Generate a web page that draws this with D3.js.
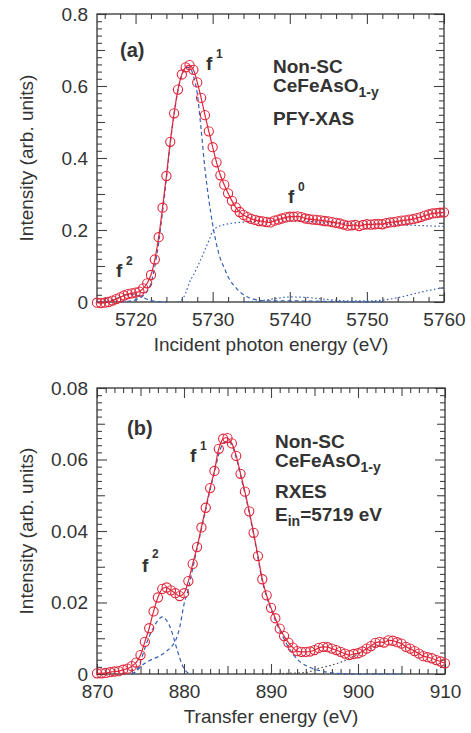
<!DOCTYPE html>
<html>
<head>
<meta charset="utf-8">
<script src="https://cdn.jsdelivr.net/npm/d3@7"></script>
<style>
  body { margin: 0; background: #fff; }
  svg text { font-family: "Liberation Sans", Arial, Helvetica, sans-serif; fill: #333; }
</style>
</head>
<body>
<div id="chart"></div>
<script>
// ---- panel (a): PFY-XAS, [energy eV, intensity]
var xasData = [
  [5715.0,-0.002],[5715.5,-0.003],[5716.0,-0.002],[5716.5,0.000],[5717.0,0.004],[5717.5,0.008],
  [5718.0,0.013],[5718.5,0.018],[5719.0,0.022],[5719.5,0.024],[5720.0,0.026],[5720.5,0.029],
  [5721.0,0.038],[5721.5,0.052],[5722.0,0.075],[5722.5,0.118],[5723.0,0.180],[5723.5,0.262],
  [5724.0,0.350],[5724.5,0.445],[5725.0,0.524],[5725.5,0.590],[5726.0,0.632],[5726.5,0.652],
  [5727.0,0.658],[5727.5,0.645],[5728.0,0.610],[5728.5,0.567],[5729.0,0.519],[5729.5,0.474],
  [5730.0,0.430],[5730.5,0.388],[5731.0,0.352],[5731.5,0.326],[5732.0,0.302],[5732.5,0.281],
  [5733.0,0.263],[5733.5,0.250],[5734.0,0.242],[5734.5,0.236],[5735.0,0.231],[5735.5,0.228],
  [5736.0,0.225],[5736.5,0.224],[5737.0,0.222],[5737.5,0.221],[5738.0,0.226],[5738.5,0.229],
  [5739.0,0.232],[5739.5,0.235],[5740.0,0.237],[5740.5,0.237],[5741.0,0.238],[5741.5,0.236],
  [5742.0,0.232],[5742.5,0.230],[5743.0,0.229],[5743.5,0.228],[5744.0,0.227],[5744.5,0.225],
  [5745.0,0.224],[5745.5,0.222],[5746.0,0.220],[5746.5,0.218],[5747.0,0.215],[5747.5,0.212],
  [5748.0,0.213],[5748.5,0.214],[5749.0,0.211],[5749.5,0.214],[5750.0,0.216],[5750.5,0.215],
  [5751.0,0.216],[5751.5,0.217],[5752.0,0.216],[5752.5,0.219],[5753.0,0.221],[5753.5,0.222],
  [5754.0,0.224],[5754.5,0.226],[5755.0,0.227],[5755.5,0.229],[5756.0,0.230],[5756.5,0.233],
  [5757.0,0.236],[5757.5,0.240],[5758.0,0.243],[5758.5,0.246],[5759.0,0.247],[5759.5,0.248],
  [5760.0,0.249]
];
// fitted components (a)
var xasF1 = [
  [5718,0.000],[5719,0.002],[5720,0.006],[5721,0.018],[5722,0.052],[5722.5,0.100],[5723,0.165],
  [5723.5,0.250],[5724,0.342],[5724.5,0.440],[5725,0.522],[5725.5,0.588],[5726,0.630],
  [5726.5,0.652],[5727,0.652],[5727.5,0.628],[5728,0.580],[5728.5,0.480],[5729,0.370],
  [5729.5,0.285],[5730,0.215],[5730.5,0.160],[5731,0.120],[5731.5,0.095],[5732,0.070],
  [5733,0.040],[5734,0.020],[5735,0.010],[5736,0.005],[5737,0.003],[5740,0.003],[5744,0.002],
  [5748,0.001],[5752,0.000]
];
var xasF2 = [
  [5715,0.000],[5716,0.001],[5717,0.005],[5718,0.014],[5719,0.021],[5720,0.020],[5721,0.012],
  [5722,0.004],[5723,0.001],[5724,0.000]
];
var xasF0 = [
  [5725.5,0.000],[5726,0.006],[5726.5,0.025],[5727,0.055],[5727.5,0.075],[5728,0.097],
  [5728.5,0.120],[5729,0.145],[5729.5,0.170],[5730,0.197],[5730.5,0.207],[5731,0.212],
  [5732,0.217],[5733,0.220],[5735,0.223],[5738,0.225],[5740,0.225],[5744,0.222],[5748,0.218],
  [5752,0.216],[5756,0.213],[5760,0.210]
];
var xasEdge = [
  [5734,0.000],[5736,0.003],[5738,0.009],[5740,0.014],[5742,0.013],[5744,0.009],[5746,0.005],
  [5748,0.003],[5750,0.003],[5752,0.005],[5754,0.012],[5756,0.022],[5758,0.032],[5760,0.040]
];
var xasTickLabels = [0, 0.2, 0.4, 0.6, 0.8];
var xasEnergyLabels = [5720, 5730, 5740, 5750, 5760];

// ---- panel (b): RXES, [transfer energy eV, intensity]
var rxesData = [
  [870.0,0.0002],[870.5,0.0002],[871.0,0.0003],[871.5,0.0005],[872.0,0.0007],[872.5,0.0008],
  [873.0,0.0012],[873.5,0.0015],[874.0,0.0022],[874.5,0.0032],[875.0,0.0053],[875.5,0.0090],
  [876.0,0.0128],[876.5,0.0175],[877.0,0.0214],[877.5,0.0238],[878.0,0.0242],[878.5,0.0234],
  [879.0,0.0226],[879.5,0.0218],[880.0,0.0226],[880.5,0.0260],[881.0,0.0308],[881.5,0.0355],
  [882.0,0.0410],[882.5,0.0465],[883.0,0.0520],[883.5,0.0568],[884.0,0.0630],[884.5,0.0658],
  [885.0,0.0660],[885.5,0.0645],[886.0,0.0610],[886.5,0.0560],[887.0,0.0510],[887.5,0.0455],
  [888.0,0.0395],[888.5,0.0330],[889.0,0.0265],[889.5,0.0220],[890.0,0.0185],[890.5,0.0156],
  [891.0,0.0127],[891.5,0.0106],[892.0,0.0088],[892.5,0.0074],[893.0,0.0064],[893.5,0.0062],
  [894.0,0.0062],[894.5,0.0063],[895.0,0.0067],[895.5,0.0073],[896.0,0.0076],[896.5,0.0075],
  [897.0,0.0071],[897.5,0.0067],[898.0,0.0062],[898.5,0.0057],[899.0,0.0053],[899.5,0.0056],
  [900.0,0.0058],[900.5,0.0063],[901.0,0.0071],[901.5,0.0078],[902.0,0.0087],[902.5,0.0090],
  [903.0,0.0088],[903.5,0.0094],[904.0,0.0093],[904.5,0.0089],[905.0,0.0085],[905.5,0.0076],
  [906.0,0.0071],[906.5,0.0064],[907.0,0.0057],[907.5,0.0050],[908.0,0.0047],[908.5,0.0044],
  [909.0,0.0039],[909.5,0.0035],[910.0,0.0030]
];
var rxesF1 = [
  [874,0.0000],[874.5,0.0008],[875,0.0020],[875.5,0.0030],[876,0.0037],[876.5,0.0043],
  [877,0.0048],[877.5,0.0055],[878,0.0064],[878.5,0.0075],[879,0.0092],[879.5,0.0130],
  [880,0.0195],[880.5,0.0238],[881,0.0295],[881.5,0.0350],[882,0.0405],[882.5,0.0460],
  [883,0.0515],[883.5,0.0565],[884,0.0615],[884.5,0.0645],[885,0.0652],[885.5,0.0640],
  [886,0.0605],[886.5,0.0555],[887,0.0505],[887.5,0.0450],[888,0.0390],[888.5,0.0325],
  [889,0.0260],[889.5,0.0215],[890,0.0180],[890.5,0.0150],[891,0.0122],[891.5,0.0098],
  [892,0.0075],[892.5,0.0056],[893,0.0042],[893.5,0.0031],[894,0.0024],[894.5,0.0018],
  [895,0.0013],[895.5,0.0010],[896,0.0007],[897,0.0003],[898,0.0001],[899,0.0000],[905,0.0000]
];
var rxesF2 = [
  [874,0.0000],[874.5,0.0008],[875,0.0035],[875.5,0.0072],[876,0.0105],[876.5,0.0130],
  [877,0.0150],[877.5,0.0160],[878,0.0150],[878.5,0.0125],[879,0.0085],[879.5,0.0045],
  [880,0.0015],[880.5,0.0002]
];
var rxesSat = [
  [889,0.0000],[892,0.0002],[894,0.0004],[895.5,0.0016],[897,0.0025],[898.5,0.0038],
  [900,0.0056],[901.5,0.0073],[902.5,0.0082]
];
var rxesTickLabels = [0, 0.02, 0.04, 0.06, 0.08];
var rxesEnergyLabels = [870, 880, 890, 900, 910];

var RED = "#e0263a", BLUE = "#3560b4";

var svg = d3.select("#chart").append("svg")
    .attr("width", 471)
    .attr("height", 733);

function drawPanel(p) {
    var x = d3.scaleLinear().domain(p.xDomain).range([97, p.right]);
    var y = d3.scaleLinear().domain(p.yDomain).range([p.bottom, p.top]);
    var g = svg.append("g");

    // inward ticks on all four sides
    function ticks(vals, len, side) {
        var ax, t;
        if (side == "bottom") { ax = d3.axisBottom(x); t = "translate(0," + p.bottom + ")"; }
        if (side == "top")    { ax = d3.axisTop(x);    t = "translate(0," + p.top + ")"; }
        if (side == "left")   { ax = d3.axisLeft(y);   t = "translate(97,0)"; }
        if (side == "right")  { ax = d3.axisRight(y);  t = "translate(" + p.right + ",0)"; }
        var a = g.append("g").attr("transform", t)
            .call(ax.tickValues(vals).tickSize(-len).tickSizeOuter(0).tickFormat(""));
        a.select(".domain").remove();
        a.selectAll("line").attr("stroke", "#444").attr("stroke-width", 1.1);
    }
    ["bottom", "top"].forEach(function(s) {
        ticks(p.xMinor, 5, s); ticks(p.xMid, 8, s); ticks(p.xLabels, 10, s);
    });
    ["left", "right"].forEach(function(s) {
        ticks(p.yMinor, 5, s); ticks(p.yMid, 8, s); ticks(p.yLabels, 10, s);
    });

    // frame
    g.append("rect")
        .attr("x", 97).attr("y", p.top)
        .attr("width", p.right - 97).attr("height", p.bottom - p.top)
        .attr("fill", "none").attr("stroke", "#333").attr("stroke-width", 1.3);

    // tick labels
    var xl = g.append("g").attr("transform", "translate(0," + p.bottom + ")")
        .call(d3.axisBottom(x).tickValues(p.xLabels).tickSize(0).tickPadding(11)
            .tickFormat(d3.format("d")));
    xl.select(".domain").remove();
    xl.selectAll("text").attr("font-size", 19).attr("fill", "#333")
        .attr("font-family", "Liberation Sans, Arial, sans-serif");

    var yl = g.append("g").attr("transform", "translate(97,0)")
        .call(d3.axisLeft(y).tickValues(p.yLabels).tickSize(0).tickPadding(9)
            .tickFormat(function(d) { return d === 0 ? "0" : p.yFmt(d); }));
    yl.select(".domain").remove();
    yl.selectAll("text").attr("font-size", 19).attr("fill", "#333")
        .attr("font-family", "Liberation Sans, Arial, sans-serif");

    // axis titles
    g.append("text")
        .attr("x", 271).attr("y", p.bottom + 49)
        .attr("text-anchor", "middle").attr("font-size", 19)
        .text(p.xTitle);
    g.append("text")
        .attr("transform", "translate(33," + (p.top + p.bottom) / 2 + ") rotate(-90)")
        .attr("text-anchor", "middle").attr("font-size", 19)
        .text("Intensity (arb. units)");

    var line = d3.line()
        .x(function(d) { return x(d[0]); })
        .y(function(d) { return y(d[1]); })
        .curve(d3.curveMonotoneX);

    var plot = g.append("g");
    p.comps.forEach(function(c) {
        plot.append("path")
            .attr("d", line(c.data))
            .attr("fill", "none")
            .attr("stroke", c.color)
            .attr("stroke-width", 1.2)
            .attr("stroke-dasharray", c.dash);
    });

    // fit line through the data
    plot.append("path")
        .attr("d", line.curve(d3.curveCatmullRom)(p.data))
        .attr("fill", "none").attr("stroke", RED).attr("stroke-width", 1.2);

    plot.selectAll("circle")
        .data(p.data)
        .enter().append("circle")
        .attr("cx", function(d) { return x(d[0]); })
        .attr("cy", function(d) { return y(d[1]); })
        .attr("r", 4.6)
        .attr("fill", "none")
        .attr("stroke", RED)
        .attr("stroke-width", 1.1);

    return g;
}

drawPanel({
    xDomain: [5715, 5760], yDomain: [0, 0.8],
    right: 444, top: 14, bottom: 302,
    xLabels: xasEnergyLabels,
    xMinor: [5716, 5718, 5722, 5724, 5726, 5728, 5732, 5734, 5736, 5738, 5742, 5744, 5746, 5748,
             5752, 5754, 5756, 5758],
    xMid: [],
    yLabels: xasTickLabels,
    yMinor: [0.02, 0.04, 0.06, 0.08, 0.12, 0.14, 0.16, 0.18, 0.22, 0.24, 0.26, 0.28, 0.32, 0.34,
             0.36, 0.38, 0.42, 0.44, 0.46, 0.48, 0.52, 0.54, 0.56, 0.58, 0.62, 0.64, 0.66, 0.68,
             0.72, 0.74, 0.76, 0.78],
    yMid: [0.1, 0.3, 0.5, 0.7],
    yFmt: d3.format(".1f"),
    xTitle: "Incident photon energy (eV)",
    data: xasData,
    comps: [
        { data: xasF1, color: BLUE, dash: "4,3" },
        { data: xasF2, color: BLUE, dash: "4,3" },
        { data: xasF0, color: BLUE, dash: "1.5,2.5" },
        { data: xasEdge, color: BLUE, dash: "1.5,2.5" }
    ]
});

drawPanel({
    xDomain: [870, 910], yDomain: [0, 0.08],
    right: 445, top: 388, bottom: 674,
    xLabels: rxesEnergyLabels,
    xMinor: [871, 872, 873, 874, 876, 877, 878, 879, 881, 882, 883, 884, 886, 887, 888, 889,
             891, 892, 893, 894, 896, 897, 898, 899, 901, 902, 903, 904, 906, 907, 908, 909],
    xMid: [875, 885, 895, 905],
    yLabels: rxesTickLabels,
    yMinor: [0.002, 0.004, 0.006, 0.008, 0.012, 0.014, 0.016, 0.018, 0.022, 0.024, 0.026, 0.028,
             0.032, 0.034, 0.036, 0.038, 0.042, 0.044, 0.046, 0.048, 0.052, 0.054, 0.056, 0.058,
             0.062, 0.064, 0.066, 0.068, 0.072, 0.074, 0.076, 0.078],
    yMid: [0.01, 0.03, 0.05, 0.07],
    yFmt: d3.format(".2f"),
    xTitle: "Transfer energy (eV)",
    data: rxesData,
    comps: [
        { data: rxesF1, color: BLUE, dash: "4,3" },
        { data: rxesF2, color: BLUE, dash: "4,3" },
        { data: rxesSat, color: "#444", dash: "1.5,2.5" }
    ]
});

// annotations
function label(x, y, str, size) {
    return svg.append("text").attr("x", x).attr("y", y)
        .attr("font-size", size || 19).attr("font-weight", "bold").text(str);
}
function withSub(x, y, main, sub, after) {
    var t = label(x, y, main);
    t.append("tspan").attr("font-size", 14).attr("dy", 5).text(sub);
    if (after) t.append("tspan").attr("dy", -5).text(after);
}

label(120, 57, "(a)", 20);
label(206, 70, "f", 19); label(216, 58, "1", 12);
label(273, 73, "Non-SC");
withSub(273, 92, "CeFeAsO", "1-y");
label(273, 125, "PFY-XAS");
label(288, 203, "f", 19); label(298, 191, "0", 12);
label(116, 277, "f", 19); label(126, 265, "2", 12);

label(127, 435, "(b)", 20);
label(190, 462, "f", 19); label(200, 450, "1", 12);
label(275, 448, "Non-SC");
withSub(275, 467, "CeFeAsO", "1-y");
label(275, 498, "RXES");
withSub(275, 521, "E", "in", "=5719 eV");
label(142, 572, "f", 19); label(152, 558, "2", 12);
</script>
</body>
</html>
